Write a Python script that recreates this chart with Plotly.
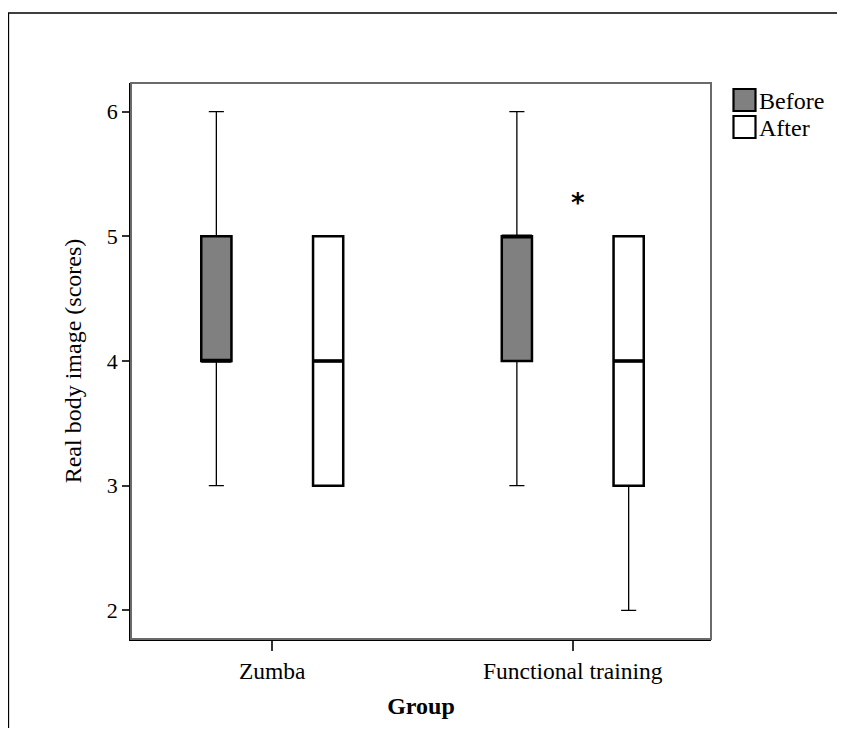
import plotly.graph_objects as go

categories = ["Zumba", "Functional training"]
before_low = [3, 3]
before_q1 = [4, 4]
before_med = [4, 5]
before_q3 = [5, 5]
before_high = [6, 6]
after_low = [3, 2]
after_q1 = [3, 3]
after_med = [4, 4]
after_q3 = [5, 5]
after_high = [5, 5]
series_names = ["Before", "After"]

FONT = "Liberation Serif"
GREY = "#808080"
FILLS = [GREY, "white"]

fig = go.Figure()

def add_series(name, low, q1, med, q3, high, fill):
    grp = name
    # whiskers (thin)
    fig.add_trace(go.Box(x=categories, q1=q1, median=med, q3=q3,
                         lowerfence=low, upperfence=high, name=name,
                         offsetgroup=grp, boxpoints=False, whiskerwidth=0.5,
                         fillcolor=fill, line=dict(color="black", width=1.3),
                         showlegend=False, hoverinfo="skip"))
    # box body (thicker outline)
    fig.add_trace(go.Box(x=categories, q1=q1, median=med, q3=q3,
                         lowerfence=q1, upperfence=q3, name=name,
                         offsetgroup=grp, boxpoints=False, whiskerwidth=0,
                         fillcolor=fill, line=dict(color="black", width=2.5),
                         showlegend=False))
    # median (thickest)
    fig.add_trace(go.Box(x=categories, q1=med, median=med, q3=med,
                         lowerfence=med, upperfence=med, name=name,
                         offsetgroup=grp, boxpoints=False, whiskerwidth=0,
                         fillcolor=fill, line=dict(color="black", width=3.5),
                         showlegend=False, hoverinfo="skip"))

add_series(series_names[0], before_low, before_q1, before_med, before_q3, before_high, FILLS[0])
add_series(series_names[1], after_low, after_q1, after_med, after_q3, after_high, FILLS[1])

# figure size accounts for the 8px page margin
W, H = 829, 720
L, T = 123, 75
R = W - 703
B = H - 631
pw, ph = W - L - R, H - T - B

def px(xp):
    return (xp - L) / pw

def py(yp):
    return 1 - (yp - T) / ph

shapes = [
    # plot frame
    dict(type="rect", xref="paper", yref="paper", x0=0, x1=1, y0=0, y1=1,
         line=dict(color="#6a6a6a", width=2), layer="above"),
    # outer figure border
    dict(type="rect", xref="paper", yref="paper",
         x0=px(0.5), x1=px(W + 10), y0=py(H + 10), y1=py(5),
         line=dict(color="black", width=1.3)),
]
annotations = [
    dict(x="Functional training", y=5.27, xref="x", yref="y", text="<b>*</b>",
         showarrow=False, xshift=5, font=dict(family="DejaVu Sans", size=26)),
]
# legend drawn as swatches + labels
leg_top = [81, 108]
for name, fill, top in zip(series_names, FILLS, leg_top):
    shapes.append(dict(type="rect", xref="paper", yref="paper",
                       x0=px(725.5), x1=px(747.5), y0=py(top + 22), y1=py(top),
                       fillcolor=fill, line=dict(color="black", width=2.2)))
    annotations.append(dict(x=px(749), y=py(top + 12), xref="paper", yref="paper",
                            text=name, showarrow=False, xanchor="left", yanchor="middle",
                            font=dict(family=FONT, size=24)))

fig.update_layout(
    width=W, height=H,
    margin=dict(l=L, r=R, t=T, b=B),
    paper_bgcolor="white", plot_bgcolor="white",
    boxmode="group", boxgap=0.256, boxgroupgap=0.73,
    font=dict(family=FONT, size=22, color="black"),
    showlegend=False,
    xaxis=dict(range=[-0.47, 1.46], showgrid=False, zeroline=False,
               showline=True, linecolor="black", linewidth=1.5,
               ticks="outside", ticklen=10, tickwidth=1.5, tickcolor="#333",
               tickfont=dict(family=FONT, size=23.5),
               title=dict(text="<b>Group</b>", font=dict(family=FONT, size=24), standoff=14)),
    yaxis=dict(range=[1.77, 6.23], showgrid=False, zeroline=False,
               showline=True, linecolor="black", linewidth=1.5,
               ticks="outside", ticklen=7, tickwidth=1.5, tickcolor="#333",
               tickvals=[2, 3, 4, 5, 6],
               tickfont=dict(family=FONT, size=22),
               title=dict(text="Real body image (scores)", font=dict(family=FONT, size=24), standoff=18)),
    shapes=shapes,
    annotations=annotations,
)

fig.write_html("out.html")
